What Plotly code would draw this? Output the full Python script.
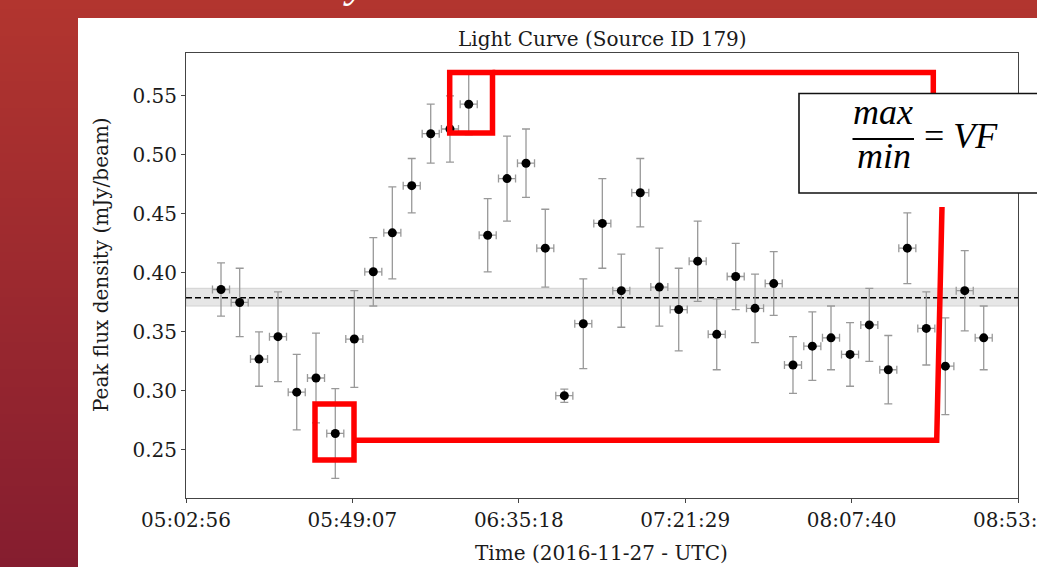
import plotly.graph_objects as go

# ---------------- data ----------------
obs_date = "2016-11-27"
times = ["05:12:39", "05:17:50", "05:23:12", "05:28:28", "05:33:40", "05:39:01",
         "05:44:22", "05:49:39", "05:54:55", "06:00:12", "06:05:35", "06:10:51",
         "06:16:12", "06:21:24", "06:26:40", "06:32:02", "06:37:18", "06:42:39",
         "06:47:56", "06:53:12", "06:58:29", "07:03:45", "07:09:01", "07:14:18",
         "07:19:41", "07:24:57", "07:30:14", "07:35:30", "07:40:52", "07:46:03",
         "07:51:24", "07:56:46", "08:01:57", "08:07:14", "08:12:35", "08:17:51",
         "08:23:08", "08:28:24", "08:33:41", "08:39:04", "08:44:20"]
flux = [0.386, 0.375, 0.327, 0.346, 0.299, 0.311, 0.264, 0.344, 0.401, 0.434,
        0.474, 0.518, 0.522, 0.543, 0.432, 0.480, 0.493, 0.421, 0.296, 0.357,
        0.442, 0.385, 0.468, 0.388, 0.369, 0.410, 0.348, 0.397, 0.370, 0.391,
        0.322, 0.338, 0.345, 0.331, 0.356, 0.318, 0.421, 0.353, 0.321, 0.385,
        0.345]
flux_err = [0.0225, 0.029, 0.023, 0.038, 0.032, 0.038, 0.038, 0.041, 0.029, 0.039,
            0.023, 0.025, 0.028, 0.026, 0.031, 0.036, 0.029, 0.033, 0.0056, 0.038,
            0.038, 0.031, 0.029, 0.033, 0.035, 0.034, 0.030, 0.028, 0.029, 0.027,
            0.024, 0.029, 0.027, 0.027, 0.031, 0.029, 0.030, 0.031, 0.041, 0.034,
            0.027]
time_err_seconds = 142
mean_flux = 0.379
mean_band = [0.372, 0.387]
x_tick_labels = ["05:02:56", "05:49:07", "06:35:18", "07:21:29", "08:07:40", "08:53:51"]
y_tick_values = [0.25, 0.30, 0.35, 0.40, 0.45, 0.50, 0.55]
y_range = [0.2093, 0.5864]

# ---------------- layout geometry ----------------
W, H = 1037, 567
L, R, T, B = 186, 1018, 53, 498  # plot area in pixels


def px(xp):
    return (xp - L) / (R - L)


def py(yp):
    return (B - yp) / (B - T)


def to_sec(t):
    h, m, s = (int(v) for v in t.split(":"))
    return h * 3600 + m * 60 + s


x_sec = [to_sec(t) for t in times]
x_tickvals = [to_sec(t) for t in x_tick_labels]

fig = go.Figure()
fig.add_trace(go.Scatter(
    x=x_sec, y=flux, mode="markers",
    marker=dict(color="black", size=9),
    error_y=dict(type="data", array=flux_err, color="#999999", thickness=1.3, width=4),
    error_x=dict(type="constant", value=time_err_seconds, color="#999999",
                 thickness=1.3, width=4),
    customdata=times, hovertemplate="%{customdata}: %{y:.3f}<extra></extra>",
    showlegend=False,
))

shapes = []
# slide background gradient (vertical)
top_c = (178, 53, 47)
bot_c = (133, 29, 47)
nb = 63
for i in range(nb):
    y0 = i * H / nb
    y1 = (i + 1) * H / nb + 1
    f = (i + 0.5) / nb
    c = tuple(int(round(top_c[k] + (bot_c[k] - top_c[k]) * f)) for k in range(3))
    shapes.append(dict(type="rect", xref="paper", yref="paper", layer="below",
                       x0=px(-5), x1=px(W + 5), y0=py(y1), y1=py(y0),
                       fillcolor="rgb(%d,%d,%d)" % c, line=dict(width=0)))
# white slide panel
shapes.append(dict(type="rect", xref="paper", yref="paper", layer="below",
                   x0=px(78), x1=px(W + 10), y0=py(H + 10), y1=py(18),
                   fillcolor="white", line=dict(width=0)))
# mean band + mean line
shapes.append(dict(type="rect", xref="paper", yref="y", layer="below",
                   x0=0, x1=1, y0=mean_band[0], y1=mean_band[1],
                   fillcolor="#e6e6e6", line=dict(color="#d2d2d2", width=1)))
shapes.append(dict(type="line", xref="paper", yref="y", layer="below",
                   x0=0, x1=1, y0=mean_flux, y1=mean_flux,
                   line=dict(color="black", width=1.6, dash="6px,3px")))

# red highlight annotations
red = "#ff0000"
lw = 5.5
shapes.append(dict(type="rect", xref="paper", yref="paper",
                   x0=px(449.7), x1=px(492.5), y0=py(133), y1=py(72.5),
                   line=dict(color=red, width=lw)))
shapes.append(dict(type="rect", xref="paper", yref="paper",
                   x0=px(315), x1=px(354), y0=py(460), y1=py(404),
                   line=dict(color=red, width=lw)))
shapes.append(dict(type="path", xref="paper", yref="paper",
                   path="M %f,%f L %f,%f L %f,%f" % (px(492.5), py(72.5), px(933.3), py(72.5),
                                                   px(933.3), py(100)),
                   line=dict(color=red, width=lw)))
shapes.append(dict(type="path", xref="paper", yref="paper",
                   path="M %f,%f L %f,%f L %f,%f" % (px(942), py(207), px(936.7), py(440.3),
                                                   px(354), py(440.3)),
                   line=dict(color=red, width=lw)))
# formula box
shapes.append(dict(type="rect", xref="paper", yref="paper",
                   x0=px(799), x1=px(W + 30), y0=py(193), y1=py(93.5),
                   fillcolor="white", line=dict(color="#111", width=1.6)))
shapes.append(dict(type="line", xref="paper", yref="paper",
                   x0=px(852.5), x1=px(914), y0=py(139), y1=py(139),
                   line=dict(color="black", width=2)))

serif = "DejaVu Serif"
ann = []
ann.append(dict(text="Light Curve (Source ID 179)", x=px(602), y=py(39), xref="paper", yref="paper",
                xanchor="center", yanchor="middle", showarrow=False,
                font=dict(family=serif, size=20, color="#1a1a1a")))
ann.append(dict(text="Time (2016-11-27 - UTC)", x=px(601), y=py(553), xref="paper", yref="paper",
                xanchor="center", yanchor="middle", showarrow=False,
                font=dict(family=serif, size=20, color="#1a1a1a")))
ann.append(dict(text="Peak flux density (mJy/beam)", x=px(101), y=py(265), xref="paper", yref="paper",
                xanchor="center", yanchor="middle", showarrow=False, textangle=-90,
                font=dict(family=serif, size=20, color="#1a1a1a")))
mf = "Liberation Serif"
ann.append(dict(text="<i>max</i>", x=px(883), y=py(112), xref="paper", yref="paper",
                xanchor="center", yanchor="middle", showarrow=False,
                font=dict(family=mf, size=36, color="black")))
ann.append(dict(text="<i>min</i>", x=px(883.5), y=py(156), xref="paper", yref="paper",
                xanchor="center", yanchor="middle", showarrow=False,
                font=dict(family=mf, size=36, color="black")))
ann.append(dict(text="= <i>VF</i>", x=px(922), y=py(136), xref="paper", yref="paper",
                xanchor="left", yanchor="middle", showarrow=False,
                font=dict(family=mf, size=36, color="black")))
# cut-off slide title descender
ann.append(dict(text="<i>y</i>", x=px(355), y=py(9), xref="paper", yref="paper",
                xanchor="center", yanchor="bottom", showarrow=False,
                font=dict(family=mf, size=44, color="white")))

fig.update_layout(
    width=W, height=H,
    margin=dict(l=L, r=W - R, t=T, b=H - B, pad=0, autoexpand=False),
    paper_bgcolor="rgb(160,42,47)", plot_bgcolor="white",
    shapes=shapes, annotations=ann,
    font=dict(family=serif, size=20, color="#1a1a1a"),
)
fig.update_xaxes(range=[x_tickvals[0], x_tickvals[-1]], automargin=False,
                 tickvals=x_tickvals, ticktext=x_tick_labels, ticklabeloverflow="allow",
                 showgrid=False, zeroline=False, showline=True, mirror=True,
                 linecolor="#444", linewidth=1, ticks="outside", ticklen=4,
                 tickcolor="#444", tickfont=dict(family=serif, size=20, color="#1a1a1a"))
fig.update_yaxes(range=y_range, tickvals=y_tick_values, automargin=False,
                 ticktext=["%.2f" % v for v in y_tick_values],
                 showgrid=False, zeroline=False, showline=True, mirror=True,
                 linecolor="#444", linewidth=1, ticks="outside", ticklen=4,
                 tickcolor="#444", tickfont=dict(family=serif, size=20, color="#1a1a1a"))

fig.write_html("out.html")
